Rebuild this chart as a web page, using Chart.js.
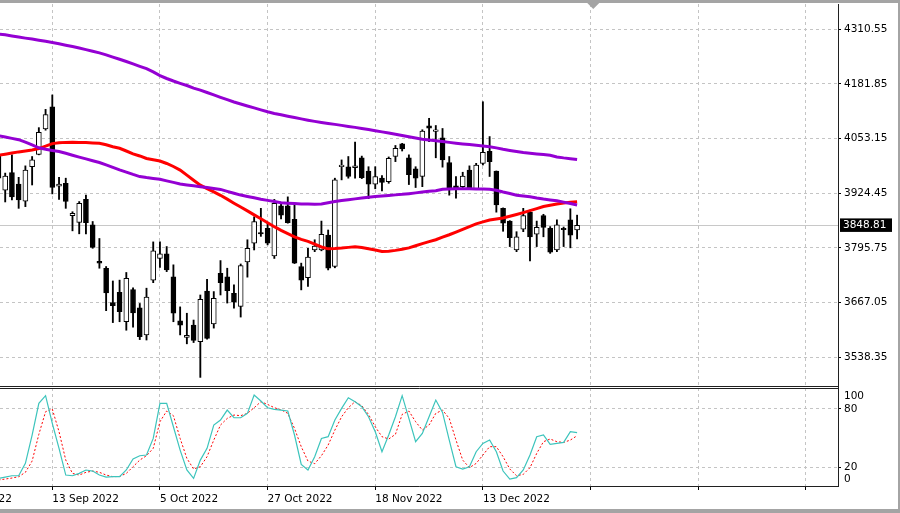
<!DOCTYPE html>
<html><head><meta charset="utf-8">
<script src="https://cdn.jsdelivr.net/npm/chart.js@4.4.1/dist/chart.umd.min.js"></script>
<style>html,body{margin:0;padding:0;background:#fff;overflow:hidden}canvas{display:block}</style>
</head><body>
<canvas id="c" width="900" height="513" style="width:900px;height:513px"></canvas>
<script>
// ---- data (daily bars, index 0 = 31 Aug 2022) ----
const dateTickIdx = [8, 24, 40, 56, 72, 88, 104, 120];
const dateLabels = ['13 Sep 2022', '5 Oct 2022', '27 Oct 2022', '18 Nov 2022', '13 Dec 2022', '', '', ''];
const offLabelIdx = -8;
const offLabel = '19 Aug 2022';
const priceTicks = [3538.35, 3667.05, 3795.75, 3924.45, 4053.15, 4181.85, 4310.55];
const stochTicks = [0, 20, 80, 100];
const shiftMarkerIdx = 88.4;

const opens = [4012,3932,3973,3946,3906,3987,4016,4076,4128,3941,3948,3872,3856,3910,3850,3764,3748,3667,3691,3622,3698,3655,3591,3720,3771,3782,3728,3624,3585,3614,3575,3694,3617,3736,3728,3689,3658,3763,3807,3832,3842,3777,3895,3895,3863,3752,3726,3791,3791,3826,3752,3987,3987,3985,4008,3977,3946,3960,3952,4011,4041,4008,3982,3964,4083,4070,4055,3997,3942,3940,3979,3935,3995,4023,3977,3889,3859,3791,3840,3880,3828,3872,3842,3791,3842,3862,3838];
const highs = [4020,3972,4015,3962,3989,4011,4079,4122,4156,3962,3960,3881,3905,3920,3858,3818,3752,3718,3720,3738,3702,3665,3701,3810,3810,3799,3756,3657,3642,3626,3685,3722,3693,3766,3748,3709,3758,3815,3869,3889,3854,3910,3901,3916,3897,3760,3795,3815,3859,3838,3960,4003,4011,4045,4012,3987,3987,3966,4010,4037,4042,4015,3987,4074,4101,4084,4077,4011,3964,3974,3989,3995,4140,4058,3977,3890,3860,3834,3889,3885,3859,3875,3846,3862,3845,3888,3873];
const lows = [3950,3904,3909,3889,3893,3944,4015,4073,3923,3910,3889,3836,3829,3829,3795,3748,3648,3620,3622,3602,3609,3580,3579,3714,3750,3740,3622,3591,3570,3573,3491,3581,3607,3685,3666,3654,3633,3727,3791,3823,3803,3771,3864,3854,3759,3697,3705,3787,3789,3744,3749,3956,3960,3960,3959,3912,3935,3930,3948,3999,4024,3945,3938,3940,4046,4008,3986,3920,3913,3936,3934,3934,3991,3964,3880,3835,3799,3787,3834,3765,3799,3822,3783,3787,3799,3796,3817];
const closes = [3960,3965,3916,3909,3979,4003,4068,4110,3938,3946,3905,3877,3901,3855,3797,3760,3690,3660,3646,3724,3643,3587,3680,3789,3782,3744,3642,3614,3590,3578,3675,3583,3677,3714,3695,3668,3754,3795,3858,3829,3807,3901,3873,3855,3760,3720,3774,3800,3828,3748,3956,3991,3964,3989,3961,3946,3964,3950,4007,4030,4029,3968,3960,4071,4078,4074,4003,3936,3935,3965,3935,3991,4021,3999,3897,3854,3820,3822,3872,3822,3844,3844,3786,3850,3839,3826,3848.81];

const maSlow = [4299.5,4297.6,4295.0,4292.4,4289.8,4287.5,4284.9,4282.3,4279.5,4276.4,4273.1,4270.0,4266.5,4262.7,4259.0,4255.0,4250.3,4245.1,4239.9,4234.7,4229.1,4223.4,4217.8,4210.2,4201.6,4194.7,4188.8,4183.4,4178.2,4172.1,4167.4,4161.7,4156.1,4150.4,4144.8,4139.4,4134.7,4130.0,4125.5,4120.8,4116.3,4112.5,4109.3,4105.9,4102.7,4099.6,4096.5,4093.7,4091.1,4088.8,4086.7,4084.3,4081.9,4079.6,4077.0,4074.4,4071.6,4069.0,4066.2,4063.3,4060.5,4057.5,4054.6,4051.8,4049.9,4048.0,4046.2,4044.3,4042.4,4040.7,4039.1,4037.5,4035.8,4034.2,4031.3,4028.0,4025.4,4022.9,4020.5,4018.9,4017.2,4015.8,4013.9,4010.1,4007.8,4005.9,4004.0];
const maMid = [4060.0,4057.0,4053.7,4050.6,4044.7,4038.2,4031.6,4028.0,4025.4,4022.9,4018.6,4014.1,4009.7,4005.4,4001.2,3997.0,3991.3,3985.4,3979.5,3974.4,3968.9,3963.8,3961.4,3959.5,3957.4,3953.6,3950.1,3946.3,3944.2,3942.1,3940.0,3937.9,3935.8,3933.6,3928.9,3924.5,3920.2,3916.9,3913.9,3910.6,3907.7,3904.9,3902.1,3901.1,3900.2,3899.3,3899.0,3898.8,3899.3,3902.1,3904.9,3907.5,3909.4,3911.3,3913.1,3915.0,3916.7,3918.1,3919.3,3920.7,3921.9,3923.5,3925.4,3927.5,3929.2,3930.3,3933.9,3934.6,3935.0,3935.3,3935.0,3934.8,3934.3,3933.9,3931.5,3927.5,3924.0,3920.0,3918.3,3916.5,3913.4,3910.8,3908.9,3907.0,3903.7,3900.2,3896.9];
const maFast = [4013.9,4016.5,4019.1,4021.9,4024.0,4026.2,4029.7,4035.3,4041.4,4043.3,4044.3,4044.5,4044.3,4043.8,4043.1,4042.2,4038.6,4033.9,4030.4,4024.0,4017.4,4012.3,4006.4,4003.6,4000.5,3994.6,3987.5,3979.1,3967.1,3955.3,3943.5,3935.5,3927.7,3919.7,3910.6,3901.1,3892.0,3883.0,3873.6,3864.4,3855.0,3845.8,3837.1,3829.6,3821.8,3815.9,3811.2,3804.6,3798.0,3793.6,3794.3,3795.4,3797.1,3798.5,3796.6,3793.8,3791.0,3787.4,3788.1,3790.0,3792.9,3795.9,3800.9,3806.0,3810.5,3815.0,3821.1,3826.8,3833.1,3839.5,3846.1,3852.4,3857.1,3861.4,3863.7,3866.3,3870.3,3874.5,3878.8,3883.7,3888.4,3893.4,3896.2,3899.0,3901.6,3903.3,3904.7];

const stochMain = [8.6,9.9,11.3,11.3,24.0,53.2,85.8,93.7,65.2,39.5,12.0,11.3,13.7,17.2,16.1,12.0,9.9,10.3,10.3,17.2,28.5,31.9,32.6,49.7,85.8,85.8,61.7,37.7,17.2,8.6,27.4,39.5,63.5,68.6,78.9,71.0,71.0,75.5,94.3,88.2,81.3,79.6,78.9,77.9,53.2,23.0,17.2,30.9,49.7,51.5,68.6,80.6,91.6,87.5,82.3,72.0,56.6,36.0,53.2,72.0,93.7,70.3,46.3,54.9,72.0,89.2,76.5,48.0,20.6,18.2,20.6,36.0,44.6,48.0,36.0,16.1,7.9,9.3,17.2,32.6,51.5,53.2,43.6,44.6,45.6,56.6,55.6];
const stochSignal = [6.9,7.9,8.9,10.3,14.8,26.4,53.9,77.2,79.9,56.6,27.4,13.7,12.0,14.8,16.1,14.8,12.0,10.3,10.6,13.7,20.6,27.4,31.9,39.5,66.9,77.9,73.1,49.7,29.2,18.2,20.6,30.9,48.0,63.5,70.3,73.8,73.1,75.5,81.3,87.5,84.7,81.3,79.2,75.5,60.0,41.2,26.4,23.7,31.9,42.9,58.3,72.0,81.3,87.5,83.4,74.4,61.7,51.5,49.1,53.9,74.4,77.9,66.9,58.3,63.5,75.5,78.9,70.3,48.0,27.4,19.6,24.0,32.6,41.2,41.2,30.9,18.2,11.3,12.7,19.6,34.3,46.3,49.1,46.3,45.6,48.0,52.5];

// ---- chart ----
const FONT = 'DejaVu Sans';
const FSIZE = 10.5;
const X_PAD = 3;
const pts = arr => arr.map((v, i) => ({x: i, y: v}));
const bodies = opens.map((o, i) => ({x: i, y: [o, closes[i]]}));
const wicks = lows.map((l, i) => ({x: i, y: [l, highs[i]]}));
const bodyFill = opens.map((o, i) => closes[i] >= o ? '#ffffff' : '#000000');
const lastPrice = closes[closes.length - 1];

const decor = {
  id: 'decor',
  beforeDatasetsDraw(chart) {
    const {ctx, chartArea: a, scales: {y}} = chart;
    const py = Math.round(y.getPixelForValue(lastPrice)) + 0.5;
    ctx.save();
    ctx.strokeStyle = '#c8c8c8'; ctx.lineWidth = 1;
    ctx.beginPath(); ctx.moveTo(a.left, py); ctx.lineTo(a.right, py); ctx.stroke();
    ctx.restore();
  },
  afterDraw(chart) {
    const {ctx, chartArea: a, scales: {x, y, y2}} = chart;
    const W = chart.width, H = chart.height;
    ctx.save();
    ctx.fillStyle = '#a4a4a4';
    ctx.fillRect(0, 0, W, 3);
    ctx.fillRect(W - 2, 0, 2, H);
    ctx.fillRect(0, H - 4, W, 4);
    const r = Math.round(a.right) + 0.5;
    ctx.strokeStyle = '#202020'; ctx.lineWidth = 1;
    ctx.beginPath();
    ctx.moveTo(r, y.top); ctx.lineTo(r, Math.round(a.bottom));
    const mb = Math.round(y.bottom) - 1.5;
    ctx.moveTo(a.left, mb); ctx.lineTo(r, mb);
    const st = Math.round(y2.top) + 0.5;
    ctx.moveTo(a.left, st); ctx.lineTo(r, st);
    const sb = Math.round(a.bottom) - 0.5;
    ctx.moveTo(a.left, sb); ctx.lineTo(r, sb);
    ctx.stroke();
    const tx = x.getPixelForValue(shiftMarkerIdx);
    ctx.fillStyle = '#a4a4a4';
    ctx.beginPath(); ctx.moveTo(tx - 6, 3); ctx.lineTo(tx + 6, 3); ctx.lineTo(tx, 9); ctx.closePath(); ctx.fill();
    const py = y.getPixelForValue(lastPrice);
    ctx.fillStyle = '#000';
    ctx.fillRect(a.right + 2, py - 7, 52, 13.5);
    ctx.fillStyle = '#fff';
    ctx.font = FSIZE + 'px "' + FONT + '"';
    ctx.textBaseline = 'middle'; ctx.textAlign = 'left';
    ctx.fillText(lastPrice.toFixed(2), a.right + 5, py);
    ctx.fillStyle = '#000';
    const ly = x.top + 3 + X_PAD + FSIZE * 1.2 / 2;
    ctx.fillText(offLabel, x.getPixelForValue(offLabelIdx), ly);
    ctx.restore();
  }
};

const gridCol = '#c4c4c4';
new Chart(document.getElementById('c'), {
  type: 'bar',
  data: {
    datasets: [
      {type: 'bar', data: wicks, backgroundColor: '#000', borderWidth: 0, barThickness: 1.2, grouped: false, order: 3, xAxisID: 'x', yAxisID: 'y'},
      {type: 'bar', data: bodies, backgroundColor: bodyFill, borderColor: '#000', borderWidth: 1, borderSkipped: false, barThickness: 5, grouped: false, order: 2, xAxisID: 'x', yAxisID: 'y'},
      {type: 'line', data: pts(maSlow), borderColor: '#9400d3', borderWidth: 3, pointRadius: 0, tension: 0, order: 0, yAxisID: 'y'},
      {type: 'line', data: pts(maMid), borderColor: '#9400d3', borderWidth: 3, pointRadius: 0, tension: 0, order: 0, yAxisID: 'y'},
      {type: 'line', data: pts(maFast), borderColor: '#ff0000', borderWidth: 3, pointRadius: 0, tension: 0, order: 0, yAxisID: 'y'},
      {type: 'line', data: pts(stochSignal), borderColor: '#ff0000', borderWidth: 1, borderDash: [2, 2], pointRadius: 0, tension: 0, order: 1, yAxisID: 'y2'},
      {type: 'line', data: pts(stochMain), borderColor: '#3cc4bc', borderWidth: 1.2, pointRadius: 0, tension: 0, order: 0, yAxisID: 'y2'}
    ]
  },
  options: {
    responsive: false,
    animation: false,
    events: [],
    layout: {padding: {top: 4, left: 0, right: 0, bottom: 0}},
    plugins: {legend: {display: false}, tooltip: {enabled: false}},
    font: {family: FONT, size: FSIZE},
    scales: {
      x: {
        type: 'linear', min: 0.226, max: 124.78, offset: false,
        grid: {offset: false, color: gridCol, tickColor: '#000', tickLength: 3, tickBorderDash: []},
        border: {display: false, dash: [3, 3]},
        afterBuildTicks: s => { s.ticks = dateTickIdx.map(v => ({value: v})); },
        ticks: {autoSkip: false, maxRotation: 0, align: 'start', padding: X_PAD, color: '#000',
          font: {family: FONT, size: FSIZE},
          callback: (v, i) => dateLabels[i]},
        afterFit: s => { s.height = 26; s.paddingLeft = 0; s.paddingRight = 0; }
      },
      y: {
        type: 'linear', position: 'right', stack: 'panes', stackWeight: 384,
        min: 3466.0, max: 4370.1, beginAtZero: false,
        grid: {color: gridCol, tickColor: '#000', tickLength: 3, tickBorderDash: []},
        border: {display: false, dash: [3, 3]},
        afterBuildTicks: s => { s.ticks = priceTicks.map(v => ({value: v})); },
        ticks: {padding: 3, color: '#000', font: {family: FONT, size: FSIZE}, autoSkip: false,
          callback: v => Number(v).toFixed(2)},
        afterFit: s => { s.width = 62; s.paddingTop = 0; s.paddingBottom = 0; }
      },
      y2: {
        type: 'linear', position: 'right', stack: 'panes', stackWeight: 99,
        min: -0.3, max: 101.6, beginAtZero: false,
        grid: {
          color: c => (c.tick && (c.tick.value === 0 || c.tick.value === 100)) ? 'rgba(0,0,0,0)' : gridCol,
          tickColor: c => (c.tick && (c.tick.value === 0 || c.tick.value === 100)) ? 'rgba(0,0,0,0)' : '#000',
          tickLength: 3, tickBorderDash: []},
        border: {display: false, dash: [3, 3]},
        afterBuildTicks: s => { s.ticks = stochTicks.map(v => ({value: v})); },
        ticks: {padding: 3, color: '#000', autoSkip: false,
          font: {family: FONT, size: FSIZE, lineHeight: '14px'},
          callback: v => v === 100 ? ['', '100'] : (v === 0 ? ['0', ''] : String(v))},
        afterFit: s => { s.width = 62; s.paddingTop = 0; s.paddingBottom = 0; }
      }
    }
  },
  plugins: [decor]
});
</script>
</body></html>
